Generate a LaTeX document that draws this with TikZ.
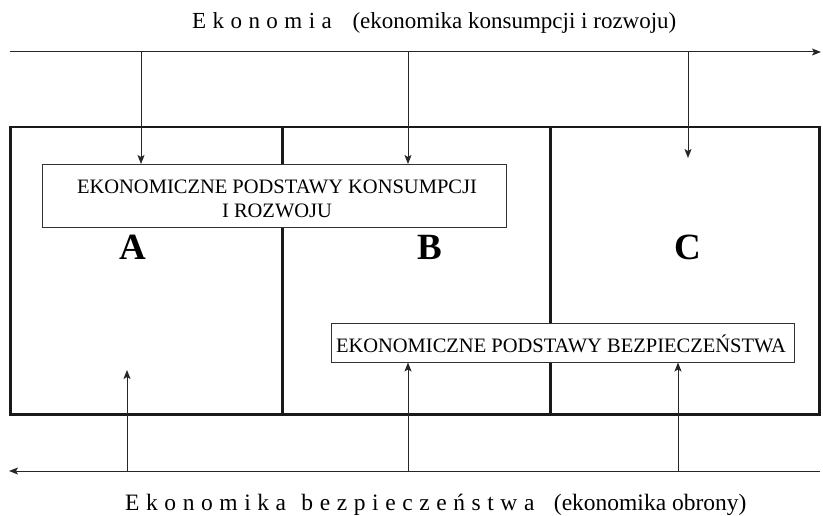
\documentclass[tikz,border=0pt]{standalone}
\usepackage{fontspec}
\setmainfont{Liberation Serif}
\usetikzlibrary{arrows.meta}
\newcommand{\lsp}{\hspace{0.28em}}
\begin{document}
\begin{tikzpicture}[x=1pt,y=-1pt,
  thin line/.style={line width=1pt, draw=black!85},
  arr/.style={thin line, -{Stealth[length=9pt,width=7pt,inset=2pt]}},
  region/.style={draw=black!90, line width=2.5pt, rectangle, inner sep=0pt, anchor=north west},
  label box/.style={draw=black!80, line width=1pt, rectangle, inner sep=0pt},
  box text/.style={font=\fontsize{20.5}{22}\selectfont, inner sep=0pt, anchor=base},
  big letter/.style={font=\fontsize{37}{37}\selectfont\bfseries, inner sep=0pt, anchor=base},
  caption/.style={font=\fontsize{23}{25}\selectfont, inner sep=0pt, anchor=base west}
]
\useasboundingbox (0,0) rectangle (823,516);
% regions
\node[region, minimum width=272pt, minimum height=287pt] (regA) at (9,126) {};
\node[region, minimum width=268pt, minimum height=287pt] (regB) at (281,126) {};
\node[region, minimum width=269pt, minimum height=287pt] (regC) at (549,126) {};
% letters
\node[big letter] (A) at (133,259) {A};
\node[big letter] (B) at (430,259) {B};
\node[big letter] (C) at (688,259) {C};
% label boxes
\node[label box, fill=white, minimum width=464pt, minimum height=63pt] (box1) at (274,196) {};
\node[box text] (box1a) at (277,194) {EKONOMICZNE PODSTAWY KONSUMPCJI};
\node[box text] (box1b) at (277,217.5) {I ROZWOJU};
\node[label box, fill=white, minimum width=463pt, minimum height=39pt] (box2) at (563,342.5) {};
\node[box text] (box2a) at (561,352) {EKONOMICZNE PODSTAWY BEZPIECZEŃSTWA};
% top axis
\coordinate (tl) at (10,52);
\coordinate (tr) at (821,52);
\draw[arr] (tl) -- (tr);
\node[caption] (toptext) at (192,29) {E\lsp k\lsp o\lsp n\lsp o\lsp m\lsp i\lsp a\hspace{0.9em}(ekonomika konsumpcji i rozwoju)};
\coordinate (d1) at (141,52);
\coordinate (d2) at (408,52);
\coordinate (d3) at (688,52);
\coordinate (d3e) at (688,158);
\draw[arr] (d1) -- (d1 |- box1.north);
\draw[arr] (d2) -- (d2 |- box1.north);
\draw[arr] (d3) -- (d3e);
% bottom axis
\coordinate (bl) at (9,471);
\coordinate (br) at (820,471);
\draw[arr] (br) -- (bl);
\node[caption, font=\fontsize{23.5}{25}\selectfont] (bottext) at (125,510) {E\lsp k\lsp o\lsp n\lsp o\lsp m\lsp i\lsp k\lsp a\hspace{0.65em}b\lsp e\lsp z\lsp p\lsp i\lsp e\lsp c\lsp z\lsp e\lsp ń\lsp s\lsp t\lsp w\lsp a\hspace{0.83em}(ekonomika obrony)};
\coordinate (u1) at (127,471);
\coordinate (u1e) at (127,370);
\coordinate (u2) at (408,471);
\coordinate (u3) at (678,471);
\draw[arr] (u1) -- (u1e);
\draw[arr] (u2) -- (u2 |- box2.south);
\draw[arr] (u3) -- (u3 |- box2.south);
\end{tikzpicture}
\end{document}
